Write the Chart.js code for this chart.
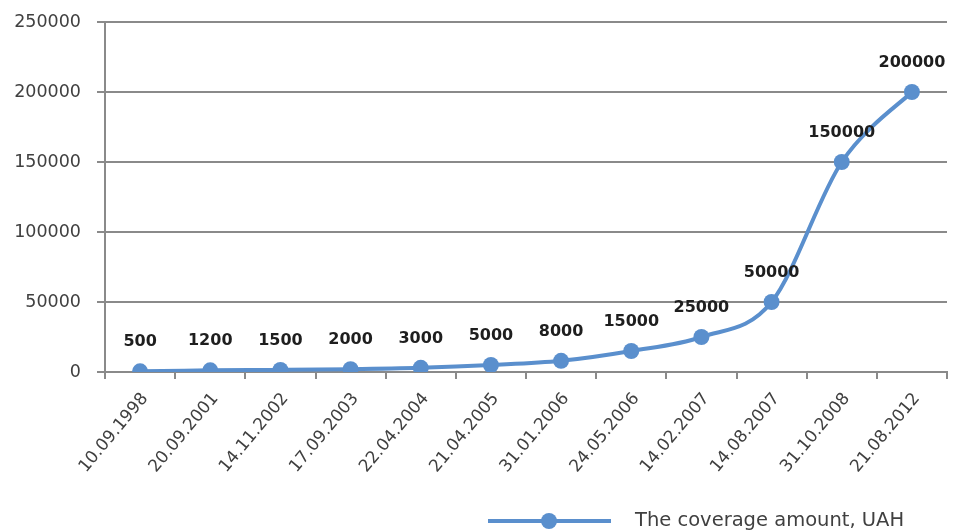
<!DOCTYPE html>
<html>
<head>
<meta charset="utf-8">
<title>The coverage amount, UAH</title>
<script src="https://cdn.jsdelivr.net/npm/chart.js@4.4.1/dist/chart.umd.min.js"></script>
<style>
  html, body { margin: 0; padding: 0; background: #ffffff; }
  #wrap { position: relative; width: 955px; height: 532px; }
</style>
</head>
<body>
<div id="wrap"><canvas id="chart" width="955" height="532"></canvas></div>
<script>
// Dates on which the coverage amount changed
const dates = [
  '10.09.1998', '20.09.2001', '14.11.2002', '17.09.2003', '22.04.2004', '21.04.2005',
  '31.01.2006', '24.05.2006', '14.02.2007', '14.08.2007', '31.10.2008', '21.08.2012'
];
// Coverage amount, UAH
const coverage = [500, 1200, 1500, 2000, 3000, 5000, 8000, 15000, 25000, 50000, 150000, 200000];
const seriesName = 'The coverage amount, UAH';
const yMax = 250000;
const yStep = 50000;

const BLUE = '#5a8fcd';
const GRID = '#8a8a8a';
const TEXT = '#404040';
const FONT = '"DejaVu Sans", "Noto Sans", sans-serif';

// Uniform Catmull-Rom style smoothing: each control point sits 1/6 of the
// neighbour-to-neighbour chord away from its point.
const smoothCurve = {
  id: 'smoothCurve',
  beforeDatasetsDraw(chart) {
    const meta = chart.getDatasetMeta(0);
    meta.dataset.updateControlPoints(chart.chartArea, 'x');
    const pts = meta.data;
    const n = pts.length;
    for (let i = 0; i < n; i++) {
      const prev = pts[Math.max(0, i - 1)];
      const next = pts[Math.min(n - 1, i + 1)];
      const dx = (next.x - prev.x) / 6;
      const dy = (next.y - prev.y) / 6;
      pts[i].cp1x = pts[i].x - dx;
      pts[i].cp1y = pts[i].y - dy;
      pts[i].cp2x = pts[i].x + dx;
      pts[i].cp2y = pts[i].y + dy;
    }
  }
};

// Bold value labels above every point
const valueLabels = {
  id: 'valueLabels',
  afterDatasetsDraw(chart) {
    const ctx = chart.ctx;
    const meta = chart.getDatasetMeta(0);
    ctx.save();
    ctx.font = 'bold 16px ' + FONT;
    ctx.fillStyle = '#1e1e1e';
    ctx.textAlign = 'center';
    ctx.textBaseline = 'middle';
    meta.data.forEach((pt, i) => {
      ctx.fillText(String(chart.data.datasets[0].data[i]), pt.x, pt.y - 29);
    });
    ctx.restore();
  }
};

// Legend entry at the bottom: long line with a marker, then the series name
const bottomLegend = {
  id: 'bottomLegend',
  afterDraw(chart) {
    const ctx = chart.ctx;
    const y = 521;
    ctx.save();
    ctx.strokeStyle = BLUE;
    ctx.lineWidth = 4;
    ctx.beginPath();
    ctx.moveTo(488, y);
    ctx.lineTo(611, y);
    ctx.stroke();
    ctx.fillStyle = BLUE;
    ctx.beginPath();
    ctx.arc(549, y, 8, 0, Math.PI * 2);
    ctx.fill();
    ctx.font = '19.5px ' + FONT;
    ctx.fillStyle = TEXT;
    ctx.textAlign = 'left';
    ctx.textBaseline = 'middle';
    ctx.fillText(chart.data.datasets[0].label, 635, y);
    ctx.restore();
  }
};

new Chart(document.getElementById('chart'), {
  type: 'line',
  data: {
    labels: dates,
    datasets: [{
      label: seriesName,
      data: coverage,
      borderColor: BLUE,
      backgroundColor: BLUE,
      borderWidth: 4,
      pointRadius: 8,
      pointHoverRadius: 8,
      pointBackgroundColor: BLUE,
      pointBorderWidth: 0,
      tension: 0.4,
      fill: false
    }]
  },
  options: {
    responsive: false,
    animation: false,
    events: [],
    layout: { padding: { top: 22, right: -2, left: 0, bottom: 0 } },
    plugins: {
      legend: { display: false },
      tooltip: { enabled: false }
    },
    scales: {
      x: {
        type: 'category',
        offset: true,
        afterFit(scale) {
          scale.height = 160;
          scale.paddingLeft = 0;
          scale.paddingRight = 0;
        },
        grid: {
          offset: true,
          drawOnChartArea: false,
          drawTicks: true,
          tickLength: 7,
          color: GRID,
          lineWidth: 2
        },
        border: { display: true, color: GRID, width: 2 },
        ticks: {
          autoSkip: false,
          minRotation: 50,
          maxRotation: 50,
          color: TEXT,
          padding: 10,
          labelOffset: 5,
          font: { family: FONT, size: 17 }
        }
      },
      y: {
        min: 0,
        max: yMax,
        afterFit(scale) {
          scale.width = 105;
          scale.paddingTop = 0;
          scale.paddingBottom = 0;
        },
        grid: {
          drawTicks: true,
          tickLength: 8,
          color: GRID,
          lineWidth: 2
        },
        border: { display: true, color: GRID, width: 2 },
        ticks: {
          stepSize: yStep,
          color: TEXT,
          padding: 16,
          font: { family: FONT, size: 17.5 },
          callback: (v) => String(v)
        }
      }
    }
  },
  plugins: [smoothCurve, valueLabels, bottomLegend]
});
</script>
</body>
</html>
